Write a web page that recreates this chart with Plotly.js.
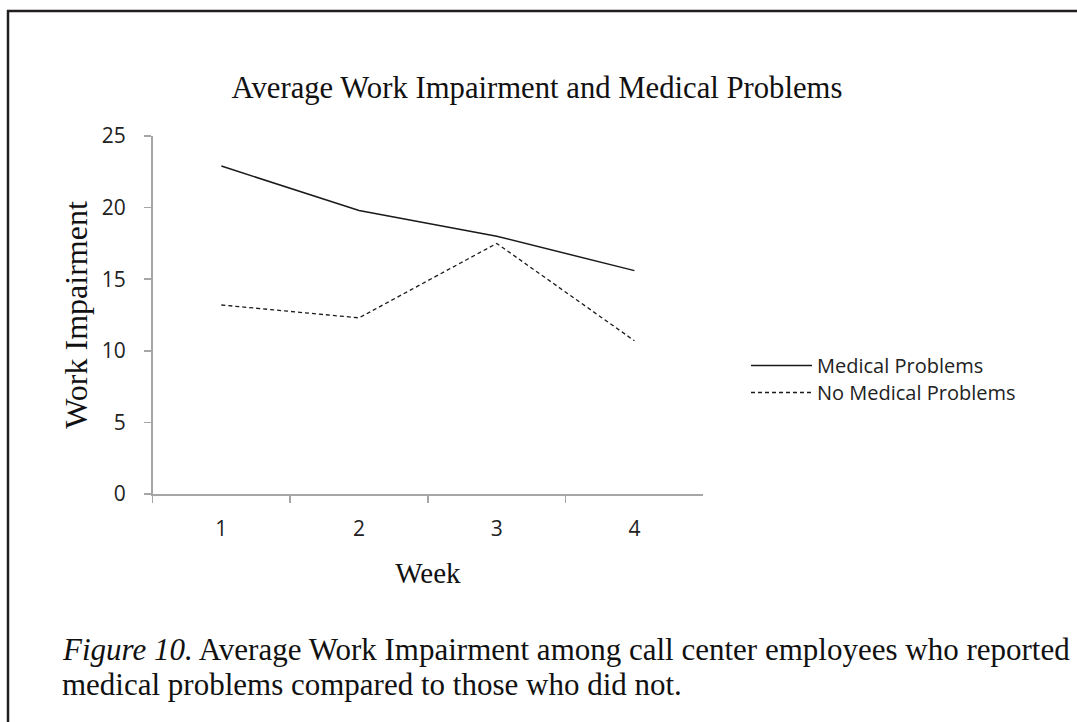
<!DOCTYPE html>
<html>
<head>
<meta charset="utf-8">
<script src="https://cdn.plot.ly/plotly-3.0.1.min.js"></script>
<style>
  html, body { margin: 0; padding: 0; background: #fff; }
  #chart { width: 1077px; height: 722px; }
</style>
</head>
<body>
<div id="chart"></div>
<script>
const weeks = ["1", "2", "3", "4"];
const medicalProblems = [22.9, 19.8, 18.0, 15.6];
const noMedicalProblems = [13.2, 12.3, 17.5, 10.7];
const seriesNames = ["Medical Problems", "No Medical Problems"];
const yTicks = [0, 5, 10, 15, 20, 25];
const chartTitle = "Average Work Impairment and Medical Problems";
const xTitle = "Week";
const yTitle = "Work Impairment";
const captionItalic = "Figure 10.";
const captionLine1 = " Average Work Impairment among call center employees who reported";
const captionLine2 = "medical problems compared to those who did not.";

const W = 1077, H = 722;
const px = v => v / W;
const py = v => 1 - v / H;

const serif = "Liberation Serif, Times New Roman, serif";
const sans = "Open Sans, Liberation Sans, sans-serif";
const axisGray = "#a6a6a6";
const textDark = "#222";

const traces = [
  {
    x: weeks, y: medicalProblems, name: seriesNames[0], type: "scatter", mode: "lines",
    line: { color: "#1a1a1a", width: 1.5 }, legend: "legend"
  },
  {
    x: weeks, y: noMedicalProblems, name: seriesNames[1], type: "scatter", mode: "lines",
    line: { color: "#1a1a1a", width: 1.3, dash: "4px,3px" }, legend: "legend2"
  }
];

const legendBase = {
  xanchor: "left", yanchor: "top",
  font: { family: sans, size: 20, color: textDark },
  bgcolor: "rgba(0,0,0,0)", itemwidth: 61
};

const layout = {
  width: W, height: H,
  margin: { l: 0, r: 0, t: 0, b: 0 },
  paper_bgcolor: "#fff", plot_bgcolor: "#fff",
  showlegend: true,
  legend: Object.assign({}, legendBase, { x: px(746), y: py(346) }),
  legend2: Object.assign({}, legendBase, { x: px(746), y: py(373) }),
  title: {
    text: chartTitle,
    font: { family: serif, size: 30.7, color: "#111" },
    x: px(537), xanchor: "center", xref: "paper",
    y: py(87), yanchor: "middle", yref: "paper"
  },
  xaxis: {
    type: "category",
    domain: [px(152.5), px(703.3)],
    range: [-0.5, 3.5],
    showline: true, linecolor: axisGray, linewidth: 1.5,
    ticks: "outside", ticklen: 7, tickcolor: axisGray, tickwidth: 1.5,
    tickson: "boundaries", ticklabelstandoff: 15,
    showgrid: false, zeroline: false,
    tickfont: { family: sans, size: 21, color: textDark },
    title: { text: xTitle, font: { family: serif, size: 29, color: "#111" }, standoff: 22 }
  },
  yaxis: {
    domain: [py(494), py(136)],
    range: [0, 25],
    tickvals: yTicks,
    showline: true, linecolor: axisGray, linewidth: 1.5,
    ticks: "outside", ticklen: 7, tickcolor: axisGray, tickwidth: 1.5,
    ticklabelstandoff: 14,
    showgrid: false, zeroline: false,
    tickfont: { family: sans, size: 21, color: textDark },
    title: { text: yTitle, font: { family: serif, size: 32, color: "#111" }, standoff: 4 }
  },
  shapes: [
    { type: "line", xref: "paper", yref: "paper", x0: px(7), x1: px(1077), y0: py(11), y1: py(11),
      line: { color: "#231f20", width: 2.5 } },
    { type: "line", xref: "paper", yref: "paper", x0: px(8), x1: px(8), y0: py(10), y1: py(722),
      line: { color: "#231f20", width: 2.5 } }
  ],
  annotations: [
    {
      text: "<i>" + captionItalic + "</i>" + captionLine1,
      xref: "paper", yref: "paper",
      x: px(60), y: py(649), xanchor: "left", yanchor: "middle",
      align: "left", showarrow: false,
      font: { family: serif, size: 31, color: "#111" }
    },
    {
      text: captionLine2,
      xref: "paper", yref: "paper",
      x: px(60), y: py(684), xanchor: "left", yanchor: "middle",
      align: "left", showarrow: false,
      font: { family: serif, size: 31, color: "#111" }
    }
  ]
};

Plotly.newPlot("chart", traces, layout, { displayModeBar: false, staticPlot: true });
</script>
</body>
</html>
